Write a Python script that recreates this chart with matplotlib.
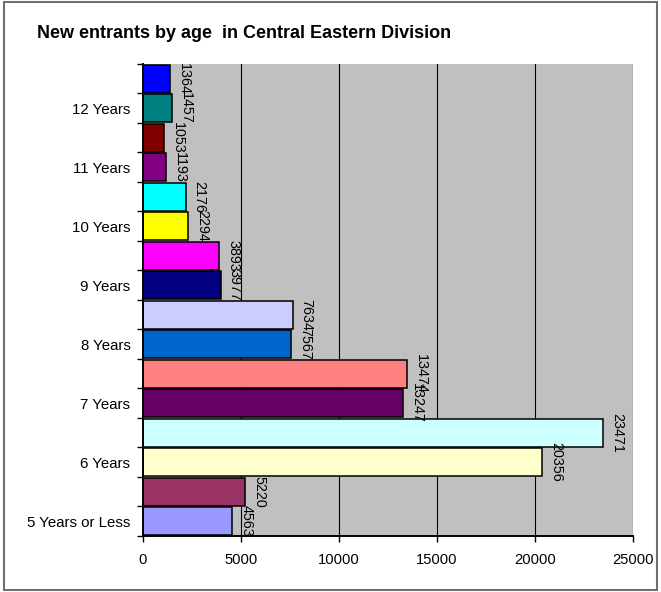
import matplotlib.pyplot as plt
from matplotlib.patches import Rectangle
import numpy as np

plt.rcParams["font.family"] = ["Liberation Sans", "DejaVu Sans"]

# one bar per row, bottom to top; only every other row gets a label
values = [4563, 5220, 20356, 23471, 13247, 13474, 7567, 7634,
          3977, 3893, 2294, 2176, 1193, 1053, 1457, 1364]
row_labels = ["5 Years or Less", "6 Years", "7 Years", "8 Years",
              "9 Years", "10 Years", "11 Years", "12 Years"]
colors = ["#9999FF", "#993366", "#FFFFCC", "#CCFFFF", "#660066", "#FF8080",
          "#0066CC", "#CCCCFF", "#000080", "#FF00FF", "#FFFF00", "#00FFFF",
          "#800080", "#800000", "#008080", "#0000FF"]

fig = plt.figure(figsize=(6.61, 5.92), dpi=100)
ax = fig.add_axes([0.2163, 0.0946, 0.7413, 0.7973])
ax.set_facecolor("#C0C0C0")

pos = np.arange(len(values))
ax.barh(pos, values, height=0.95, color=colors, edgecolor="black",
        linewidth=1.1, zorder=3)

for p, v in zip(pos, values):
    ax.annotate(str(v), xy=(v, p), xytext=(5, 0), textcoords="offset points",
                rotation=270, ha="left", va="center", fontsize=10.3,
                annotation_clip=False, zorder=4)

ax.set_xlim(0, 25000)
ax.set_ylim(-0.5, len(values) - 0.5)
ax.set_xticks(range(0, 25001, 5000))
ax.tick_params(axis="x", labelsize=10.6, length=4, width=1, pad=8)
ax.xaxis.grid(True, color="black", linewidth=0.8, zorder=1)

# tick marks on row boundaries, labels centred on alternate rows
ax.set_yticks(np.arange(-0.5, len(values), 1.0))
ax.set_yticklabels([])
ax.set_yticks(pos[::2], minor=True)
ax.set_yticklabels(row_labels, minor=True)
ax.tick_params(axis="y", which="major", length=4, width=1)
ax.tick_params(axis="y", which="minor", length=0, pad=9, labelsize=10.8)

for side in ("top", "right"):
    ax.spines[side].set_visible(False)
for side in ("left", "bottom"):
    ax.spines[side].set_linewidth(1.4)
    ax.spines[side].set_zorder(5)

fig.text(0.056, 0.944, "New entrants by age  in Central Eastern Division",
         fontsize=13, fontweight="bold", ha="left", va="center")

fig.patches.append(Rectangle((0.006, 0.003), 0.988, 0.993,
                             transform=fig.transFigure, fill=False,
                             edgecolor="#707070", linewidth=1.5))

fig.savefig("out.png", dpi=100)
